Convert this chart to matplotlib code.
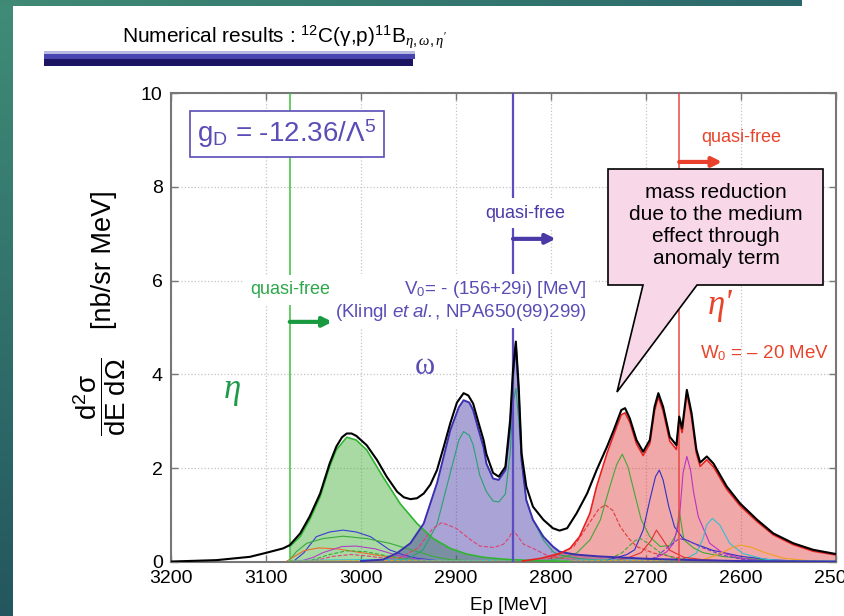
import numpy as np
import matplotlib.pyplot as plt
from matplotlib.patches import Rectangle, Polygon

plt.rcParams['font.family'] = ['Liberation Sans', 'DejaVu Sans']
plt.rcParams['mathtext.fontset'] = 'custom'
plt.rcParams['mathtext.rm'] = 'Liberation Sans'
plt.rcParams['mathtext.it'] = 'Liberation Serif:italic'
plt.rcParams['mathtext.sf'] = 'Liberation Sans:italic'
plt.rcParams['mathtext.bf'] = 'Liberation Sans:bold'

# ---- values: Ep [MeV] and d2sigma/dE dOmega [nb/sr MeV]
total_E = [3200, 3152, 3117, 3099, 3082, 3075, 3064, 3054, 3043, 3033, 3026, 3020, 3015, 3010,
           3005, 2994, 2983, 2973, 2962, 2955, 2948, 2941, 2934, 2927, 2920, 2913, 2906, 2899,
           2892, 2887, 2882, 2876, 2871, 2868, 2861, 2855, 2848, 2843, 2840, 2837, 2834, 2831,
           2826, 2819, 2808, 2798, 2791, 2783, 2773, 2762, 2752, 2741, 2734, 2726, 2722, 2717,
           2710, 2703, 2696, 2691, 2687, 2682, 2675, 2668, 2665, 2662, 2657, 2652, 2647, 2643,
           2636, 2629, 2615, 2601, 2583, 2566, 2545, 2524, 2500]
total_y = [0.01, 0.04, 0.11, 0.20, 0.29, 0.36, 0.61, 0.97, 1.46, 2.10, 2.46, 2.66, 2.74, 2.74,
           2.69, 2.49, 2.17, 1.82, 1.50, 1.38, 1.34, 1.36, 1.46, 1.65, 1.96, 2.45, 2.96, 3.40,
           3.60, 3.55, 3.38, 2.95, 2.60, 2.30, 1.90, 1.82, 2.03, 3.03, 4.09, 4.70, 3.74, 2.32,
           1.61, 1.18, 0.90, 0.72, 0.67, 0.72, 1.04, 1.46, 1.96, 2.46, 2.81, 3.24, 3.28, 3.06,
           2.60, 2.35, 2.60, 3.31, 3.60, 3.31, 2.67, 2.49, 3.10, 2.85, 3.67, 3.17, 2.40, 2.12,
           2.25, 2.10, 1.61, 1.25, 0.90, 0.61, 0.40, 0.26, 0.17]

eta_E = [3075, 3064, 3054, 3043, 3033, 3026, 3015, 3005, 2994, 2977, 2959, 2941, 2924, 2906,
         2889, 2871, 2850, 2820, 2780]
eta_y = [0.33, 0.54, 0.90, 1.39, 2.03, 2.39, 2.66, 2.60, 2.39, 1.82, 1.25, 0.82, 0.50, 0.29,
         0.17, 0.10, 0.06, 0.03, 0.01]

omega_E = [3000, 2977, 2962, 2948, 2934, 2920, 2906, 2897, 2892, 2886, 2882, 2876, 2871, 2868,
           2861, 2855, 2848, 2843, 2840, 2837, 2834, 2831, 2826, 2819, 2808, 2798, 2791, 2775,
           2750, 2700, 2650, 2600, 2500]
omega_y = [0.02, 0.05, 0.19, 0.40, 0.82, 1.68, 2.81, 3.30, 3.45, 3.40, 3.24, 2.80, 2.45, 2.10,
           1.78, 1.75, 1.96, 2.88, 3.95, 4.63, 3.60, 2.17, 1.32, 0.90, 0.54, 0.33, 0.22, 0.16,
           0.12, 0.07, 0.04, 0.02, 0.01]

etap_E = [2830, 2810, 2790, 2780, 2770, 2759, 2752, 2741, 2734, 2726, 2722, 2717, 2710, 2703,
          2696, 2691, 2687, 2682, 2675, 2668, 2665, 2662, 2657, 2652, 2647, 2643, 2636, 2629,
          2615, 2601, 2583, 2566, 2545, 2524, 2500]
etap_y = [0.02, 0.08, 0.19, 0.29, 0.54, 1.04, 1.61, 2.32, 2.71, 3.14, 3.18, 2.98, 2.52, 2.27,
          2.52, 3.22, 3.52, 3.22, 2.58, 2.40, 3.00, 2.76, 3.60, 3.08, 2.32, 2.04, 2.18, 2.03,
          1.55, 1.20, 0.86, 0.58, 0.37, 0.23, 0.15]

# individual contributions (thin lines)
eta_blue = ([3072, 3060, 3047, 3033, 3019, 3005, 2990, 2980, 2970, 2955, 2941, 2920, 2890],
            [0.0, 0.20, 0.54, 0.64, 0.68, 0.64, 0.54, 0.40, 0.26, 0.15, 0.08, 0.03, 0.01])
eta_green = ([3075, 3068, 3057, 3040, 3019, 2994, 2970, 2941, 2920, 2906, 2880],
             [0.05, 0.22, 0.40, 0.50, 0.55, 0.50, 0.40, 0.22, 0.10, 0.05, 0.02])
eta_orange = ([3078, 3070, 3060, 3045, 3025, 3000, 2975, 2950, 2920],
              [0.02, 0.12, 0.24, 0.30, 0.28, 0.20, 0.12, 0.06, 0.02])
eta_magenta = ([3065, 3050, 3040, 3020, 3005, 2985, 2965, 2940, 2915],
               [0.01, 0.10, 0.20, 0.33, 0.34, 0.28, 0.16, 0.05, 0.01])
eta_green_dash = ([3058, 3045, 3035, 3015, 2995, 2970, 2945, 2920],
                  [0.01, 0.08, 0.15, 0.24, 0.22, 0.12, 0.04, 0.01])
eta_pink_dash = ([3055, 3040, 3030, 3010, 2990, 2960, 2935],
                 [0.01, 0.07, 0.12, 0.16, 0.12, 0.04, 0.01])
omega_green = ([2965, 2950, 2935, 2920, 2906, 2897, 2892, 2886, 2882, 2875, 2868, 2861, 2855,
                2848, 2843, 2840, 2837, 2834, 2831, 2826, 2819, 2808, 2798, 2791, 2770, 2740],
               [0.03, 0.08, 0.25, 0.80, 1.90, 2.60, 2.78, 2.70, 2.50, 1.85, 1.50, 1.30, 1.28,
                1.45, 2.32, 3.38, 3.70, 3.03, 2.17, 1.32, 0.90, 0.47, 0.22, 0.15, 0.07, 0.03])
omega_pink_dash = ([2960, 2940, 2925, 2915, 2900, 2885, 2875, 2860, 2850, 2844, 2840, 2835,
                    2829, 2820, 2805, 2790, 2770],
                   [0.08, 0.30, 0.70, 0.84, 0.72, 0.48, 0.34, 0.31, 0.38, 0.52, 0.68, 0.55,
                    0.38, 0.30, 0.15, 0.08, 0.03])
etap_red_dash = ([2810, 2800, 2776, 2760, 2750, 2743, 2735, 2727, 2718, 2710, 2692, 2670, 2650, 2620],
                 [0.03, 0.08, 0.33, 0.82, 1.12, 1.22, 1.10, 0.75, 0.50, 0.33, 0.19, 0.10, 0.05, 0.02])
etap_green = ([2800, 2791, 2773, 2759, 2748, 2738, 2731, 2725, 2719, 2712, 2705, 2696, 2685,
               2675, 2668, 2665, 2662, 2660, 2650, 2640, 2620, 2600, 2560, 2520],
              [0.04, 0.08, 0.19, 0.47, 0.90, 1.61, 2.07, 2.30, 2.03, 1.46, 0.90, 0.54, 0.33,
               0.35, 0.60, 1.10, 0.70, 0.47, 0.30, 0.20, 0.12, 0.08, 0.03, 0.01])
etap_blue = ([2740, 2730, 2720, 2712, 2703, 2696, 2690, 2686, 2682, 2676, 2670, 2661, 2650,
              2630, 2600, 2570, 2540],
             [0.05, 0.10, 0.16, 0.26, 0.68, 1.32, 1.82, 1.96, 1.75, 1.18, 0.75, 0.50, 0.40,
              0.25, 0.12, 0.05, 0.02])
etap_magenta = ([2700, 2690, 2678, 2671, 2665, 2661, 2657, 2653, 2650, 2645, 2633, 2619, 2600, 2580],
                [0.03, 0.08, 0.22, 0.40, 0.90, 1.90, 2.25, 1.95, 1.50, 0.97, 0.40, 0.19, 0.08, 0.03])
etap_cyan = ([2680, 2660, 2647, 2640, 2636, 2630, 2622, 2612, 2598, 2575, 2550],
             [0.02, 0.05, 0.19, 0.50, 0.80, 0.93, 0.78, 0.40, 0.18, 0.06, 0.02])
etap_orange = ([2660, 2640, 2625, 2610, 2601, 2590, 2575, 2555, 2530, 2505],
               [0.02, 0.05, 0.15, 0.30, 0.36, 0.32, 0.20, 0.08, 0.03, 0.01])
etap_red = ([2730, 2720, 2705, 2695, 2689, 2683, 2675, 2660, 2640, 2610],
            [0.04, 0.08, 0.20, 0.45, 0.68, 0.50, 0.25, 0.10, 0.05, 0.02])
etap_green_dash = ([2750, 2740, 2725, 2712, 2706, 2698, 2685, 2670, 2650],
                   [0.02, 0.05, 0.20, 0.45, 0.50, 0.40, 0.20, 0.08, 0.03])
etap_purple_dash = ([2700, 2690, 2675, 2665, 2655, 2640, 2620, 2600, 2570],
                    [0.03, 0.10, 0.35, 0.50, 0.45, 0.30, 0.15, 0.06, 0.02])
base_cyan = ([3075, 3000, 2900, 2800, 2700, 2600, 2500], [0.03, 0.05, 0.03, 0.04, 0.04, 0.03, 0.02])
base_orange = ([3075, 3000, 2900, 2800, 2700, 2600, 2500], [0.02, 0.03, 0.02, 0.02, 0.03, 0.02, 0.01])

quasi_free = [3075, 2840, 2665]          # eta, omega, eta' thresholds
arrow_level = [5.12, 6.89, 8.53]
x_ticks = [3200, 3100, 3000, 2900, 2800, 2700, 2600, 2500]
y_ticks = [0, 2, 4, 6, 8, 10]

# ---- figure
W, H = 844, 616
fig = plt.figure(figsize=(W / 100, H / 100), dpi=100)
ax = fig.add_axes([171 / W, 1 - 562 / H, 665 / W, 469 / H])

ax.fill_between(eta_E, eta_y, color='#40af33', alpha=0.45, lw=0, zorder=1)
ax.fill_between(omega_E, omega_y, color='#4237a2', alpha=0.45, lw=0, zorder=1)
ax.fill_between(etap_E, etap_y, color='#e23e3e', alpha=0.45, lw=0, zorder=1)

comps = [(eta_blue, '#3b3bd0', '-'), (eta_green, '#3aaa3a', '-'), (eta_orange, '#f06a30', '-'),
         (eta_magenta, '#b040c8', '-'), (eta_green_dash, '#3aaa3a', '--'),
         (eta_pink_dash, '#e04080', '--'), (omega_green, '#2aa070', '-'),
         (omega_pink_dash, '#e04070', '--'), (etap_red_dash, '#e03a3a', '--'),
         (etap_green, '#40a838', '-'), (etap_blue, '#3030c8', '-'), (etap_magenta, '#c030c8', '-'),
         (etap_cyan, '#30c0d0', '-'), (etap_orange, '#f0a020', '-'), (etap_red, '#e03030', '-'),
         (etap_green_dash, '#40a838', '--'), (etap_purple_dash, '#7040c0', '--'),
         (base_cyan, '#30c0d0', '-'), (base_orange, '#f0a020', '--')]
for (xs, ys), c, ls in comps:
    ax.plot(xs, ys, color=c, ls=ls, lw=0.8, zorder=2)

ax.plot(eta_E, eta_y, color='#2fb52f', lw=1.2, zorder=3)
ax.plot(omega_E, omega_y, color='#3a30b0', lw=1.4, zorder=3)
ax.plot(etap_E, etap_y, color='#e82020', lw=1.2, zorder=3)
ax.plot(total_E, total_y, color='black', lw=1.5, zorder=4)

line_cols = ['#3cc03c', '#5b4cc0', '#e84848']
line_w = [1.1, 1.6, 1.1]
arrow_cols = ['#1a9a40', '#4a3aa8', '#e8402a']
for e, lvl, lc, lw, acol in zip(quasi_free, arrow_level, line_cols, line_w, arrow_cols):
    ax.axvline(e, color=lc, lw=lw, zorder=3.5)
    ax.annotate('', xy=(e - 45, lvl), xytext=(e, lvl),
                arrowprops=dict(arrowstyle='-|>', lw=3, color=acol, mutation_scale=14,
                                shrinkA=0, shrinkB=0), zorder=6)

ax.set_xlim(3200, 2500)
ax.set_ylim(0, 10)
ax.set_xticks(x_ticks)
ax.set_yticks(y_ticks)
ax.grid(True, ls=':', color='#c4c4c4', lw=0.9)
ax.set_axisbelow(True)
ax.tick_params(direction='in', length=5, width=1, color='#777777', top=True, right=True,
               labelsize=14, pad=6)
for s in ax.spines.values():
    s.set_color('#777777')
    s.set_linewidth(1.5)

# ---- overlay in pixel coordinates for the slide decoration and labels
ov = fig.add_axes([0, 0, 1, 1], zorder=5)
ov.patch.set_alpha(0)
ov.axis('off')
left_grad = np.linspace([0.25, 0.55, 0.47], [0.14, 0.34, 0.37], 100).reshape(100, 1, 3)
ov.imshow(left_grad, extent=(0, 13, H, 0), aspect='auto')
top_grad = np.linspace([0.25, 0.54, 0.46], [0.17, 0.41, 0.42], 100).reshape(1, 100, 3)
ov.imshow(top_grad, extent=(0, 802, 6, 0), aspect='auto')
ov.set_xlim(0, W)
ov.set_ylim(H, 0)

ov.add_patch(Rectangle((44, 51), 371, 2.5, color='#b8b8e0', lw=0))
ov.add_patch(Rectangle((44, 53.5), 371, 5, color='#4844b0', lw=0))
ov.add_patch(Rectangle((44, 58.5), 369, 7.5, color='#1c1460', lw=0))
ov.text(122, 42, r"Numerical results : $^{\mathrm{12}}$C($\mathrm{\gamma}$,p)$^{\mathrm{11}}$B$_{\eta,\omega,\eta'}$",
        fontsize=15, va='baseline', ha='left')

ov.text(100, 397, r"$\dfrac{\mathrm{d^2\sigma}}{\mathrm{dE\ d\Omega}}$", rotation=90,
        fontsize=20, ha='center', va='center')
ov.text(104, 260, "[nb/sr MeV]", rotation=90, fontsize=19.5, ha='center', va='center')
ov.text(509, 605, "Ep [MeV]", fontsize=13.5, ha='center', va='center')

purple = '#5a4db5'
ov.text(287, 134, r"g$_\mathrm{D}$ = -12.36/$\Lambda^{5}$", fontsize=20, color=purple,
        ha='center', va='center',
        bbox=dict(boxstyle='square,pad=0.25', facecolor='white', edgecolor=purple, lw=1.2))
ov.text(290, 290, "quasi-free", fontsize=13, color='#2ca84a', ha='center', va='center',
        bbox=dict(facecolor='white', edgecolor='none', pad=5))
ov.text(525, 213, "quasi-free", fontsize=13, color='#4a3aa8', ha='center', va='center',
        bbox=dict(facecolor='white', edgecolor='none', pad=5))
ov.text(741, 138, "quasi-free", fontsize=13, color='#e8442c', ha='center', va='center')
ov.text(587, 301, "V$_0$= - (156+29i) [MeV]\n(Klingl $\\mathsf{et\\ al.}$, NPA650(99)299)",
        fontsize=13.5, color=purple, ha='right', va='center', multialignment='right',
        linespacing=1.1, bbox=dict(facecolor='white', edgecolor='none', pad=4))

callout = [(608, 169), (823, 169), (823, 285), (697, 285), (617, 392), (643, 285), (608, 285)]
ov.add_patch(Polygon(callout, closed=True, facecolor='#f8d8e8', edgecolor='black', lw=1.2))
ov.text(716, 225, "mass reduction\ndue to the medium\neffect through\nanomaly term",
        fontsize=15, ha='center', va='center', linespacing=1.2)

ov.text(232, 390, "η", fontsize=25, color='#1f9a4a', family='Liberation Serif',
        style='italic', ha='center', va='center')
ov.text(425, 366, "ω", fontsize=22, color=purple, family='Liberation Serif',
        ha='center', va='center')
ov.text(720, 305, "η'", fontsize=25, color='#e8442c', family='Liberation Serif',
        style='italic', ha='center', va='center')
ov.text(765, 353, "W$_0$ = – 20 MeV", fontsize=13.5, color='#e8442c', ha='center', va='center')

fig.savefig('out.png', dpi=100)
